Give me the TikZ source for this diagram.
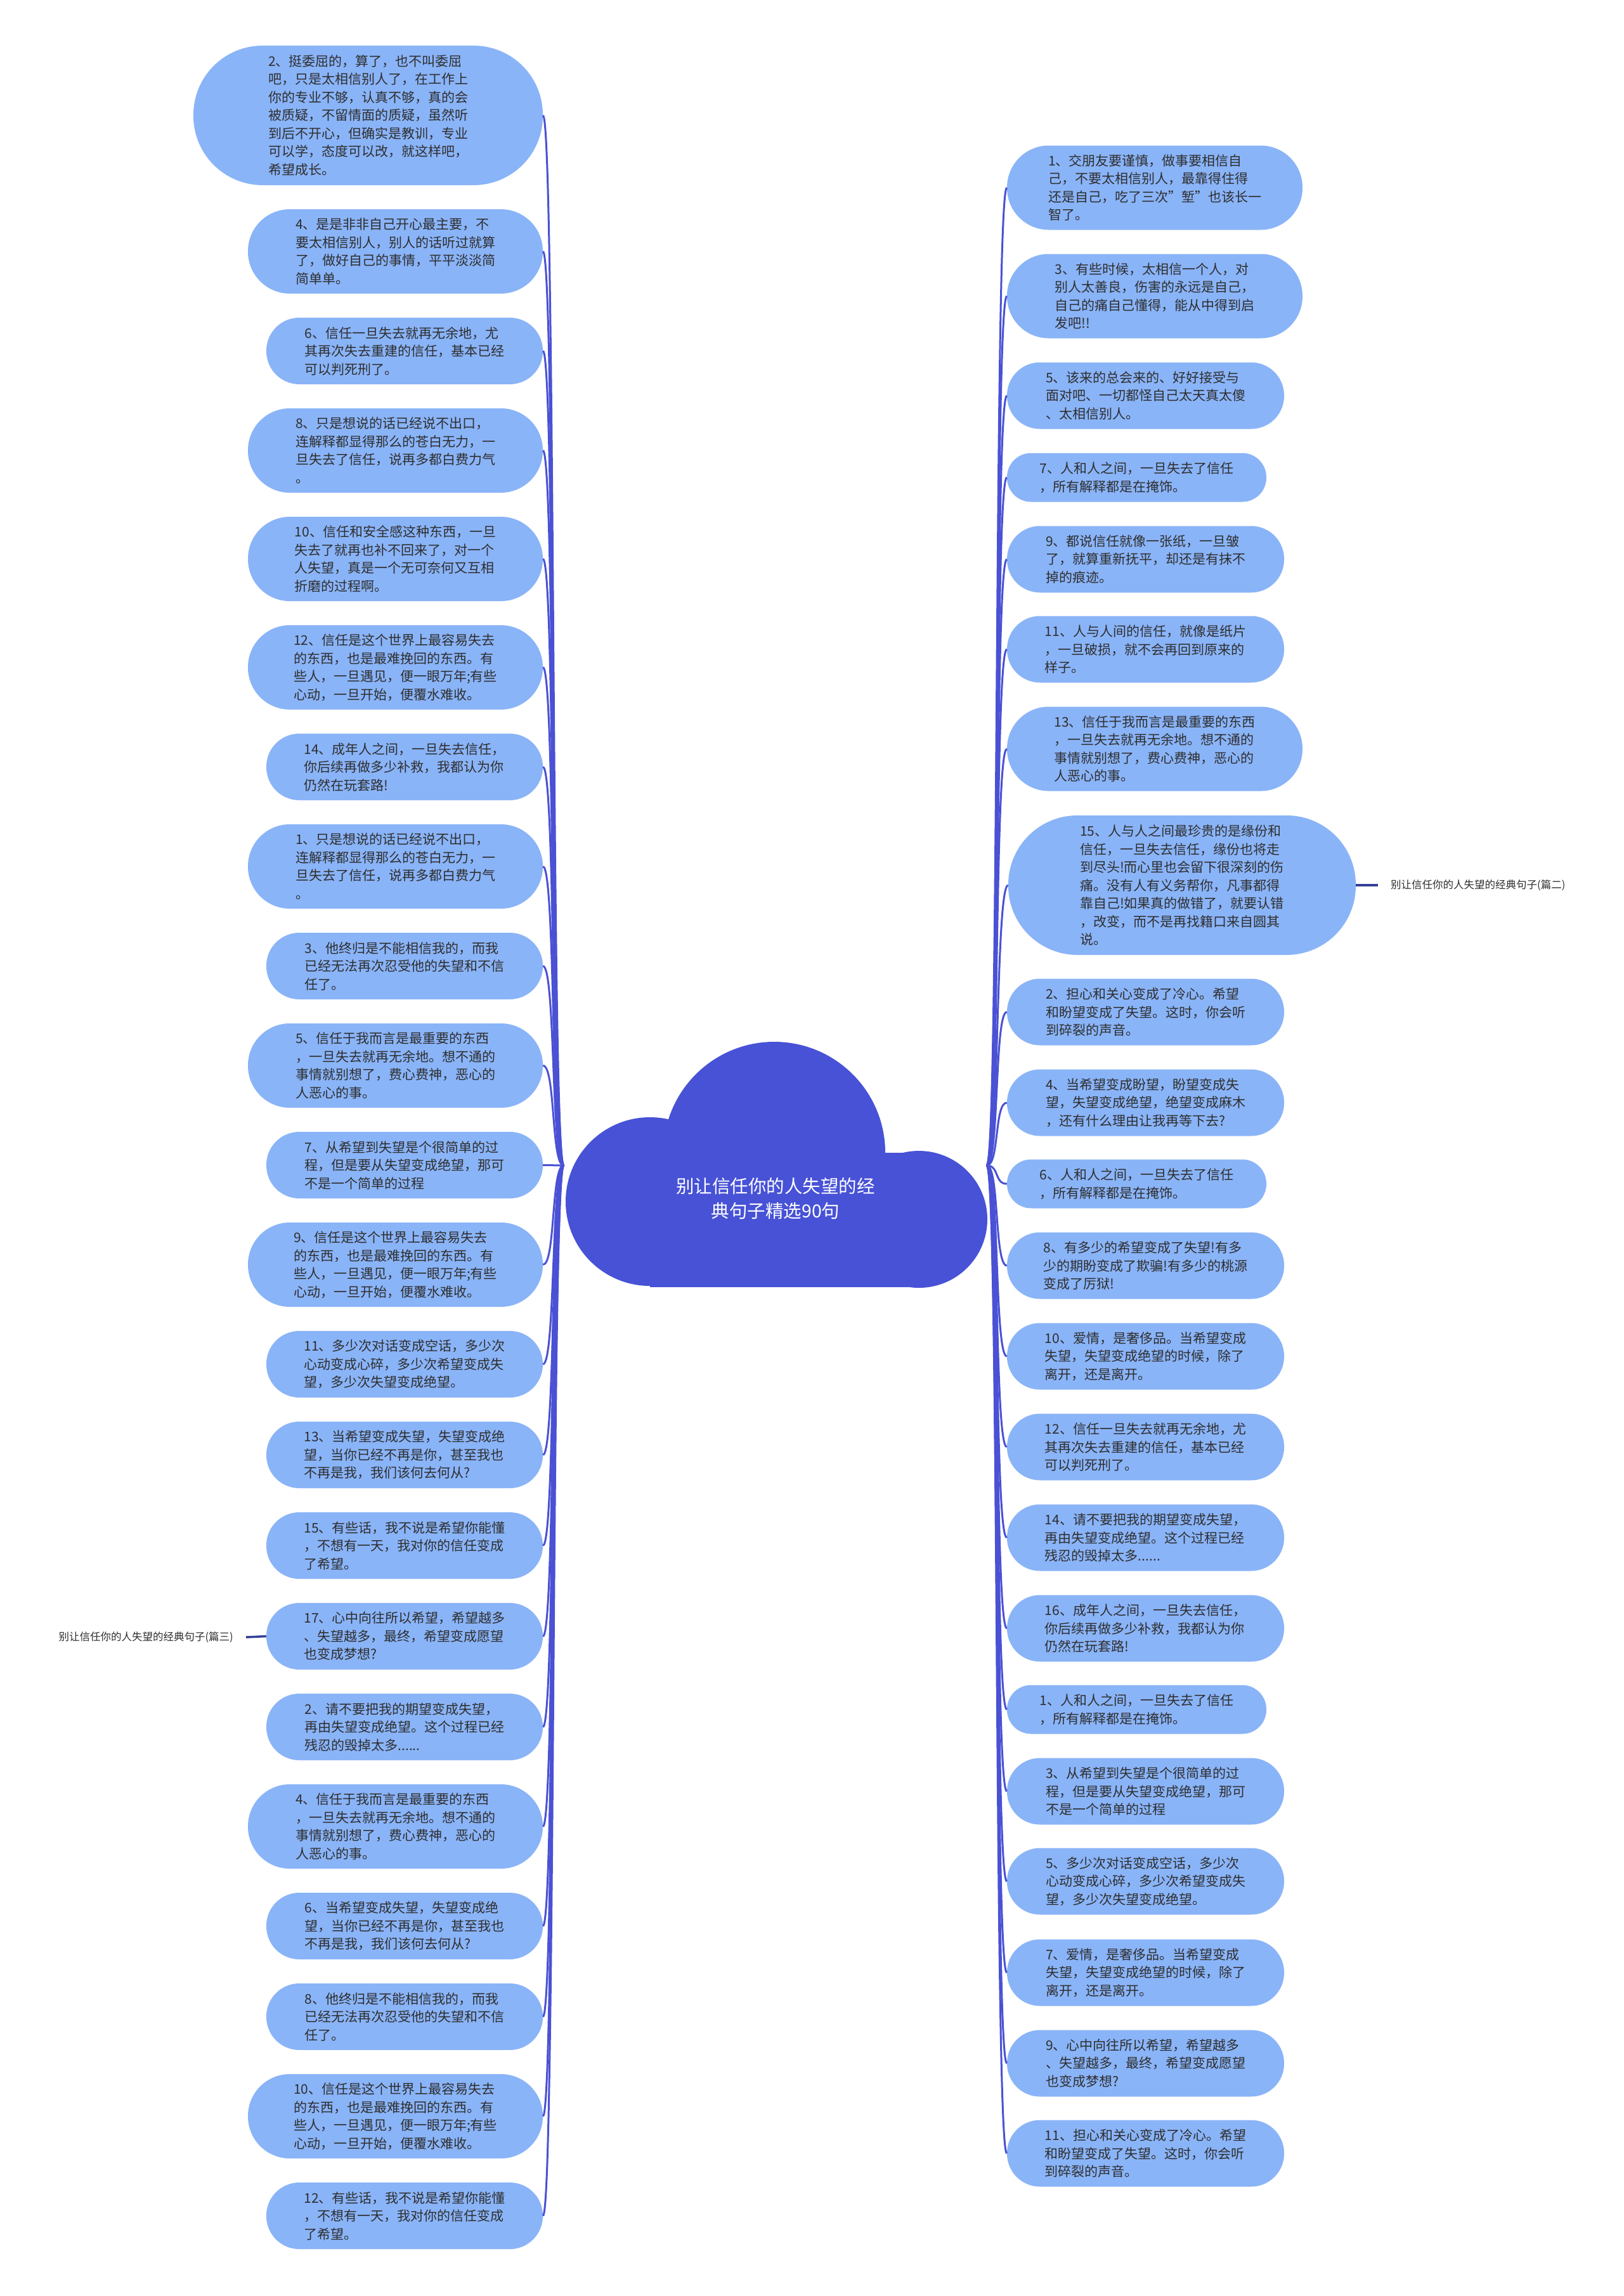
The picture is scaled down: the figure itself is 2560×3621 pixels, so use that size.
\documentclass[tikz,border=0pt]{standalone}
\usepackage{fontspec}
\setmainfont{Noto Sans CJK SC}
\usetikzlibrary{calc}
\definecolor{nodefill}{HTML}{8AB4F8}
\definecolor{cloudfill}{HTML}{4752D6}
\definecolor{linecol}{HTML}{4A51D4}
\definecolor{labline}{HTML}{34409A}
\definecolor{txtcol}{HTML}{2E2E2E}
\begin{document}
\begin{tikzpicture}[x=1pt,y=-1pt,
  leaf/.style={fill=nodefill, text=txtcol, align=left, inner sep=0pt,
    font={\fontsize{21pt}{28.5pt}\selectfont}},
  LA/.style={leaf, minimum width=551pt, minimum height=220pt, rounded corners=109pt},
  LB/.style={leaf, minimum width=465pt, minimum height=133pt, rounded corners=66pt},
  LC/.style={leaf, minimum width=436pt, minimum height=105pt, rounded corners=52pt},
  RW/.style={leaf, minimum width=466pt, minimum height=133pt, rounded corners=66pt},
  RM/.style={leaf, minimum width=437pt, minimum height=105pt, rounded corners=52pt},
  RS/.style={leaf, minimum width=409pt, minimum height=77pt, rounded corners=38pt},
  RB/.style={leaf, minimum width=548pt, minimum height=220pt, rounded corners=109pt},
  conn/.style={draw=linecol, line width=3pt},
  labconn/.style={draw=labline, line width=3.5pt},
  lab/.style={text=txtcol, inner xsep=20pt, inner ysep=0pt, font={\fontsize{16.5pt}{20pt}\selectfont}}
]
\useasboundingbox (0,0) rectangle (2560,3621);
\fill[white] (0,0) rectangle (2560,3621);

% ---- cloud (root) ----
\fill[cloudfill] (1221,1818) circle (175);
\fill[cloudfill] (1025,1895) circle (133);
\fill[cloudfill] (1449,1923) circle (108);
\fill[cloudfill] (1025,1818) rectangle (1449,2030);
\node[text=white, align=center, font={\fontsize{28.5pt}{39pt}\selectfont}] (root) at (1223,1890)
  {别让信任你的人失望的经\\典句子精选90句};
\coordinate (rootL) at (889,1838);
\coordinate (rootR) at (1556,1838);

% ---- left nodes ----
\node[LA] (L1) at (580.5,182) {2、挺委屈的，算了，也不叫委屈\\吧，只是太相信别人了，在工作上\\你的专业不够，认真不够，真的会\\被质疑，不留情面的质疑，虽然听\\到后不开心，但确实是教训，专业\\可以学，态度可以改，就这样吧，\\希望成长。};
\node[LB] (L2) at (623.5,396.5) {4、是是非非自己开心最主要，不\\要太相信别人，别人的话听过就算\\了，做好自己的事情，平平淡淡简\\简单单。};
\node[LC] (L3) at (638,553.5) {6、信任一旦失去就再无余地，尤\\其再次失去重建的信任，基本已经\\可以判死刑了。};
\node[LB] (L4) at (623.5,710.5) {8、只是想说的话已经说不出口，\\连解释都显得那么的苍白无力，一\\旦失去了信任，说再多都白费力气\\。};
\node[LB] (L5) at (623.5,881.5) {10、信任和安全感这种东西，一旦\\失去了就再也补不回来了，对一个\\人失望，真是一个无可奈何又互相\\折磨的过程啊。};
\node[LB] (L6) at (623.5,1052.5) {12、信任是这个世界上最容易失去\\的东西，也是最难挽回的东西。有\\些人，一旦遇见，便一眼万年;有些\\心动，一旦开始，便覆水难收。};
\node[LC] (L7) at (638,1209.5) {14、成年人之间，一旦失去信任，\\你后续再做多少补救，我都认为你\\仍然在玩套路!};
\node[LB] (L8) at (623.5,1366.5) {1、只是想说的话已经说不出口，\\连解释都显得那么的苍白无力，一\\旦失去了信任，说再多都白费力气\\。};
\node[LC] (L9) at (638,1523.5) {3、他终归是不能相信我的，而我\\已经无法再次忍受他的失望和不信\\任了。};
\node[LB] (L10) at (623.5,1680.5) {5、信任于我而言是最重要的东西\\，一旦失去就再无余地。想不通的\\事情就别想了，费心费神，恶心的\\人恶心的事。};
\node[LC] (L11) at (638,1837.5) {7、从希望到失望是个很简单的过\\程，但是要从失望变成绝望，那可\\不是一个简单的过程};
\node[LB] (L12) at (623.5,1994.5) {9、信任是这个世界上最容易失去\\的东西，也是最难挽回的东西。有\\些人，一旦遇见，便一眼万年;有些\\心动，一旦开始，便覆水难收。};
\node[LC] (L13) at (638,2151.5) {11、多少次对话变成空话，多少次\\心动变成心碎，多少次希望变成失\\望，多少次失望变成绝望。};
\node[LC] (L14) at (638,2294.5) {13、当希望变成失望，失望变成绝\\望，当你已经不再是你，甚至我也\\不再是我，我们该何去何从?};
\node[LC] (L15) at (638,2437.5) {15、有些话，我不说是希望你能懂\\，不想有一天，我对你的信任变成\\了希望。};
\node[LC] (L16) at (638,2580.5) {17、心中向往所以希望，希望越多\\、失望越多，最终，希望变成愿望\\也变成梦想?};
\node[LC] (L17) at (638,2723.5) {2、请不要把我的期望变成失望，\\再由失望变成绝望。这个过程已经\\残忍的毁掉太多......};
\node[LB] (L18) at (623.5,2880.5) {4、信任于我而言是最重要的东西\\，一旦失去就再无余地。想不通的\\事情就别想了，费心费神，恶心的\\人恶心的事。};
\node[LC] (L19) at (638,3037.5) {6、当希望变成失望，失望变成绝\\望，当你已经不再是你，甚至我也\\不再是我，我们该何去何从?};
\node[LC] (L20) at (638,3180.5) {8、他终归是不能相信我的，而我\\已经无法再次忍受他的失望和不信\\任了。};
\node[LB] (L21) at (623.5,3337.5) {10、信任是这个世界上最容易失去\\的东西，也是最难挽回的东西。有\\些人，一旦遇见，便一眼万年;有些\\心动，一旦开始，便覆水难收。};
\node[LC] (L22) at (638,3494.5) {12、有些话，我不说是希望你能懂\\，不想有一天，我对你的信任变成\\了希望。};

% ---- right nodes ----
\node[RW] (R1) at (1821,296) {1、交朋友要谨慎，做事要相信自\\己，不要太相信别人，最靠得住得\\还是自己，吃了三次"堑"也该长一\\智了。};
\node[RW] (R2) at (1821,467) {3、有些时候，太相信一个人，对\\别人太善良，伤害的永远是自己，\\自己的痛自己懂得，能从中得到启\\发吧!!};
\node[RM] (R3) at (1806.5,624) {5、该来的总会来的、好好接受与\\面对吧、一切都怪自己太天真太傻\\、太相信别人。};
\node[RS] (R4) at (1792.5,753) {7、人和人之间，一旦失去了信任\\，所有解释都是在掩饰。};
\node[RM] (R5) at (1806.5,882) {9、都说信任就像一张纸，一旦皱\\了，就算重新抚平，却还是有抹不\\掉的痕迹。};
\node[RM] (R6) at (1806.5,1024) {11、人与人间的信任，就像是纸片\\，一旦破损，就不会再回到原来的\\样子。};
\node[RW] (R7) at (1821,1181) {13、信任于我而言是最重要的东西\\，一旦失去就再无余地。想不通的\\事情就别想了，费心费神，恶心的\\人恶心的事。};
\node[RB] (R8) at (1864,1396) {15、人与人之间最珍贵的是缘份和\\信任，一旦失去信任，缘份也将走\\到尽头!而心里也会留下很深刻的伤\\痛。没有人有义务帮你，凡事都得\\靠自己!如果真的做错了，就要认错\\，改变，而不是再找籍口来自圆其\\说。};
\node[RM] (R9) at (1806.5,1596) {2、担心和关心变成了冷心。希望\\和盼望变成了失望。这时，你会听\\到碎裂的声音。};
\node[RM] (R10) at (1806.5,1739) {4、当希望变成盼望，盼望变成失\\望，失望变成绝望，绝望变成麻木\\，还有什么理由让我再等下去?};
\node[RS] (R11) at (1792.5,1867) {6、人和人之间，一旦失去了信任\\，所有解释都是在掩饰。};
\node[RM] (R12) at (1806.5,1996) {8、有多少的希望变成了失望!有多\\少的期盼变成了欺骗!有多少的桃源\\变成了厉狱!};
\node[RM] (R13) at (1806.5,2139) {10、爱情，是奢侈品。当希望变成\\失望，失望变成绝望的时候，除了\\离开，还是离开。};
\node[RM] (R14) at (1806.5,2282) {12、信任一旦失去就再无余地，尤\\其再次失去重建的信任，基本已经\\可以判死刑了。};
\node[RM] (R15) at (1806.5,2425) {14、请不要把我的期望变成失望，\\再由失望变成绝望。这个过程已经\\残忍的毁掉太多......};
\node[RM] (R16) at (1806.5,2568) {16、成年人之间，一旦失去信任，\\你后续再做多少补救，我都认为你\\仍然在玩套路!};
\node[RS] (R17) at (1792.5,2696) {1、人和人之间，一旦失去了信任\\，所有解释都是在掩饰。};
\node[RM] (R18) at (1806.5,2825) {3、从希望到失望是个很简单的过\\程，但是要从失望变成绝望，那可\\不是一个简单的过程};
\node[RM] (R19) at (1806.5,2967) {5、多少次对话变成空话，多少次\\心动变成心碎，多少次希望变成失\\望，多少次失望变成绝望。};
\node[RM] (R20) at (1806.5,3111) {7、爱情，是奢侈品。当希望变成\\失望，失望变成绝望的时候，除了\\离开，还是离开。};
\node[RM] (R21) at (1806.5,3254) {9、心中向往所以希望，希望越多\\、失望越多，最终，希望变成愿望\\也变成梦想?};
\node[RM] (R22) at (1806.5,3396) {11、担心和关心变成了冷心。希望\\和盼望变成了失望。这时，你会听\\到碎裂的声音。};

% ---- labels ----
\node[lab, anchor=west] (lab2) at (2173,1396) {别让信任你的人失望的经典句子(篇二)};
\node[lab, anchor=east] (lab3) at (388,2582) {别让信任你的人失望的经典句子(篇三)};

% ---- connectors ----
\foreach \n in {L1,L2,L3,L4,L5,L6,L7,L8,L9,L10,L11,L12,L13,L14,L15,L16,L17,L18,L19,L20,L21,L22}
  \draw[conn] (rootL) .. controls ($(rootL)+(-20,0)$) and ($(\n.east)+(20,0)$) .. (\n.east);
\foreach \n in {R1,R2,R3,R4,R5,R6,R7,R8,R9,R10,R11,R12,R13,R14,R15,R16,R17,R18,R19,R20,R21,R22}
  \draw[conn] (rootR) .. controls ($(rootR)+(20,0)$) and ($(\n.west)+(-20,0)$) .. (\n.west);
\draw[labconn] (R8.east) -- (lab2.west);
\draw[labconn] (lab3.east) -- (L16.west);
\end{tikzpicture}
\end{document}
